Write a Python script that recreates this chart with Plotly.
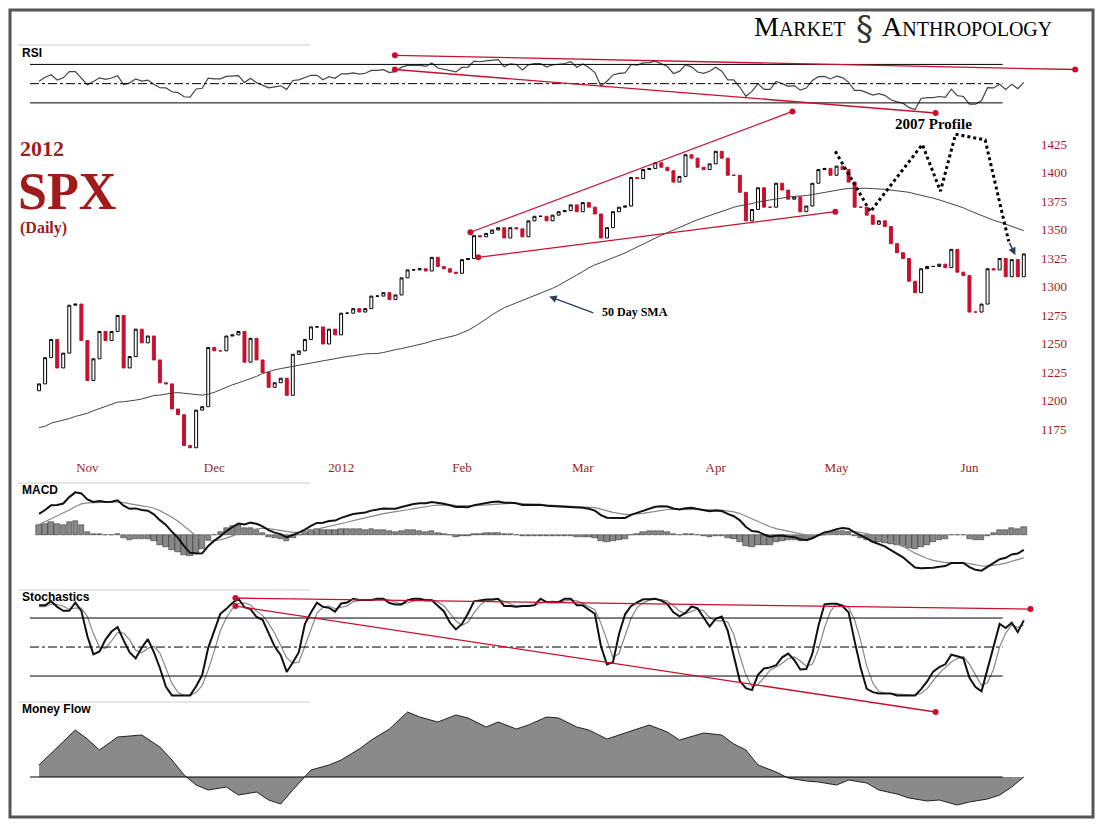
import pandas as pd
import numpy as np
import plotly.graph_objects as go
from plotly.subplots import make_subplots

# Data - daily SPX closes (warm-up Aug-Oct 2011 used only for indicators)
warmup = [1172, 1120, 1172, 1179, 1204, 1192, 1193, 1140, 1123, 1162, 1177, 1159, 1177, 1210, 1211, 1219,
          1204, 1174, 1165, 1198, 1154, 1162, 1172, 1189, 1209, 1216, 1204, 1202, 1167, 1129, 1136, 1163,
          1175, 1151, 1160, 1131,
          1099, 1123, 1144, 1164, 1155, 1194, 1195, 1207, 1203, 1225, 1200, 1225, 1209]
closes = [1215, 1238, 1254, 1229, 1242, 1284, 1285, 1253,
          1218, 1237, 1261, 1253, 1261, 1275, 1229, 1239, 1263, 1251, 1257, 1236, 1216, 1215, 1193, 1188,
          1161, 1159, 1192, 1195, 1247,
          1244, 1244, 1257, 1258, 1261, 1234, 1255, 1236, 1225, 1212, 1216, 1220, 1205, 1241, 1244, 1254,
          1265, 1265, 1250, 1263, 1258,
          1277, 1277, 1281, 1278, 1281, 1292, 1292, 1295, 1289, 1293, 1308, 1315, 1315, 1316, 1314, 1326,
          1318, 1316, 1313, 1312,
          1324, 1325, 1345, 1344, 1347, 1350, 1352, 1343, 1352, 1351, 1344, 1358, 1362, 1362, 1358, 1363,
          1366, 1367, 1372, 1366,
          1374, 1370, 1364, 1343, 1352, 1366, 1370, 1371, 1396, 1395, 1403, 1404, 1409, 1405, 1402, 1392,
          1397, 1416, 1413, 1405, 1403, 1408,
          1419, 1413, 1398, 1398, 1383, 1358, 1368, 1387, 1370, 1370, 1391, 1385, 1377, 1379, 1366, 1371,
          1391, 1403, 1404, 1398,
          1406, 1403, 1392, 1370, 1370, 1363, 1355, 1358, 1353, 1338, 1330, 1325, 1305, 1295, 1316, 1318,
          1318, 1320, 1317, 1333, 1313, 1310,
          1278, 1278, 1285, 1316, 1315, 1325, 1309, 1324, 1309, 1329]
month_idx = [8, 29, 50, 70, 90, 112, 132, 154]
month_labels = ["Nov", "Dec", "2012", "Feb", "Mar", "Apr", "May", "Jun"]
price_ticks = [1175, 1200, 1225, 1250, 1275, 1300, 1325, 1350, 1375, 1400, 1425]

# money flow (arbitrary units)
mf_idx = [0, 3, 6, 8, 10, 13, 17, 20, 22, 24, 26, 28, 31, 33, 36, 38, 40, 42, 45, 48, 50, 53, 55, 58,
          61, 63, 66, 69, 71, 74, 76, 79, 81, 84, 86, 89, 91, 94, 96, 99, 101, 104, 106, 110, 113, 115,
          117, 119, 122, 124, 127, 129, 132, 134, 137, 139, 142, 144, 147, 149, 152, 154, 157, 159, 161, 163]
mf_val = [12, 30, 47, 38, 27, 40, 42, 30, 17, 2, -8, -13, -10, -18, -15, -23, -27, -13, 7, 12, 17, 28,
          37, 48, 65, 60, 55, 62, 59, 50, 55, 48, 52, 60, 59, 50, 47, 38, 42, 48, 52, 45, 37, 44, 42, 33,
          27, 12, 5, -1, -4, -5, -8, -3, -6, -13, -17, -21, -24, -23, -28, -25, -22, -18, -10, 0]

# annotation lines (day index, value)
up_line = ([71.4, 124.7], [1348, 1454])
low_line = ([72.7, 131.8], [1326, 1366])
rsi_up = ([58.9, 171.5], [79.5, 64.7])
rsi_low = ([58.9, 148.4], [64.7, 19.5])
st_up = ([32.5, 164.1], [100.7, 89.3])
st_low = ([32.5, 148.4], [92.4, -17.2])
profile_x = [131.8, 137.6, 146.2, 149.2, 151.7, 156.6, 160.5]
profile_y = [1419, 1366, 1425, 1384, 1434, 1429, 1340]

# Indicators -
s = pd.Series(warmup + closes, dtype=float)
n0 = len(warmup)
sma = s.rolling(50).mean()
d = s.diff()
up = d.clip(lower=0).ewm(alpha=1 / 14, adjust=False).mean()
dn = (-d.clip(upper=0)).ewm(alpha=1 / 14, adjust=False).mean()
rsi = 100 - 100 / (1 + up / dn)
macd = s.ewm(span=12, adjust=False).mean() - s.ewm(span=26, adjust=False).mean()
sig = macd.ewm(span=9, adjust=False).mean()
hist = macd - sig
lo, hi = s.rolling(14).min(), s.rolling(14).max()
k = (100 * (s - lo) / (hi - lo)).rolling(3).mean()
dd = k.rolling(3).mean()

x = np.arange(len(closes))
opens = s.shift(1).iloc[n0:].values
cl = np.array(closes, dtype=float)
highs = np.maximum(opens, cl)
lows = np.minimum(opens, cl)

RED = "#c8102e"
W, H = 1097, 819  # page body has an 8px margin


def pxx(px):
    return (px - 8) / W


def py(px):
    return 1 - (px - 8) / H


fig = make_subplots(rows=5, cols=1, shared_xaxes=True)
fig.add_trace(go.Scatter(x=x, y=rsi.iloc[n0:], mode="lines", line=dict(color="#444", width=1.2)), row=1, col=1)
fig.add_trace(go.Candlestick(x=x, open=opens, high=highs, low=lows, close=cl,
                             increasing=dict(line=dict(color="black", width=1), fillcolor="white"),
                             decreasing=dict(line=dict(color=RED, width=1), fillcolor=RED),
                             whiskerwidth=0), row=2, col=1)
fig.add_trace(go.Scatter(x=x, y=sma.iloc[n0:], mode="lines", line=dict(color="#444", width=1)), row=2, col=1)
fig.add_trace(go.Bar(x=x, y=hist.iloc[n0:], marker=dict(color="#888", line=dict(color="#222", width=0.5)),
                     width=0.9), row=3, col=1)
fig.add_trace(go.Scatter(x=x, y=sig.iloc[n0:], mode="lines", line=dict(color="#888", width=1.2)), row=3, col=1)
fig.add_trace(go.Scatter(x=x, y=macd.iloc[n0:], mode="lines", line=dict(color="#111", width=2)), row=3, col=1)
fig.add_trace(go.Scatter(x=x, y=dd.iloc[n0:], mode="lines", line=dict(color="#888", width=1.2)), row=4, col=1)
fig.add_trace(go.Scatter(x=x, y=k.iloc[n0:], mode="lines", line=dict(color="#111", width=2)), row=4, col=1)
fig.add_trace(go.Scatter(x=mf_idx, y=mf_val, mode="lines", fill="tozeroy", fillcolor="#8a8a8a",
                         line=dict(color="#222", width=1)), row=5, col=1)

# horizontal reference lines
for row, vals in [(1, [70, 50, 30]), (4, [80, 50, 20]), (5, [0])]:
    for v in vals:
        fig.add_trace(go.Scatter(x=[-1.5, 159.5], y=[v, v], mode="lines",
                                 line=dict(color="black", width=1, dash="dashdot" if v == 50 else "solid")),
                      row=row, col=1)

# red trendlines
for row, ln in [(1, rsi_up), (1, rsi_low), (2, up_line), (2, low_line), (4, st_up), (4, st_low)]:
    fig.add_trace(go.Scatter(x=ln[0], y=ln[1], mode="lines+markers", cliponaxis=False,
                             line=dict(color=RED, width=1.3), marker=dict(color=RED, size=6)),
                  row=row, col=1)
fig.add_trace(go.Scatter(x=profile_x, y=profile_y, mode="lines", cliponaxis=False,
                         line=dict(color="black", width=3, dash="dot")), row=2, col=1)

# layout -
fig.update_layout(
    width=W, height=H, margin=dict(l=0, r=0, t=0, b=0), showlegend=False,
    paper_bgcolor="white", plot_bgcolor="rgba(0,0,0,0)", bargap=0,
    font=dict(family="Liberation Serif", color="black"),
    yaxis=dict(domain=[py(115), py(50)], range=[17.4, 85]),
    yaxis2=dict(domain=[py(458), py(100)], range=[1150, 1464]),
    yaxis3=dict(domain=[py(575), py(488)]),
    yaxis4=dict(domain=[py(715), py(590)], range=[-20.3, 109]),
    yaxis5=dict(domain=[py(812), py(705)], range=[-35, 72]),
)
fig.update_xaxes(range=[-1.5, 172.3], domain=[pxx(30), pxx(1080)], showgrid=False, zeroline=False,
                 showticklabels=False, ticks="", rangeslider_visible=False)
fig.update_yaxes(showgrid=False, zeroline=False, showticklabels=False)
fig.update_xaxes(row=2, col=1, showticklabels=True, tickvals=month_idx, ticktext=month_labels,
                 tickfont=dict(color="#a01c1c", size=13, family="Liberation Serif"))

for p in price_ticks:
    fig.add_annotation(x=168, y=p, xref="x2", yref="y2", text=str(p), showarrow=False,
                       font=dict(size=13, color="#a01c1c", family="Liberation Serif"))


def label(txt, xp, yp, size=12, color="black", bold=True, family="Liberation Sans", anchor="left"):
    fig.add_annotation(x=pxx(xp), y=py(yp), xref="paper", yref="paper", xanchor=anchor, yanchor="middle",
                       text=f"<b>{txt}</b>" if bold else txt, showarrow=False,
                       font=dict(size=size, color=color, family=family))


label("RSI", 20, 53, 12)
label("MACD", 20, 490, 12)
label("Stochastics", 20, 597, 12)
label("Money Flow", 20, 709, 12)
label("2012", 18, 148, 22, "#a01c1c", family="Liberation Serif")
label("SPX", 16, 192, 52, "#a01c1c", family="Liberation Serif")
label("(Daily)", 18, 228, 16, "#a01c1c", family="Liberation Serif")
label("2007 Profile", 893, 124, 15, family="Liberation Serif")
label("50 Day SMA", 600, 312, 12, family="Liberation Serif")
label("M<span style='font-size:20px'>ARKET</span>", 848, 26, 28, bold=False, family="Liberation Serif",
      anchor="right")
label("A<span style='font-size:20px'>NTHROPOLOGY</span>", 880, 26, 28, bold=False, family="Liberation Serif")
label("§", 864, 28, 34, bold=False, family="DejaVu Serif", color="#333", anchor="center")

fig.add_annotation(x=(549 - 39) / 6.04, y=1425 - (297 - 145) / 1.14, xref="x2", yref="y2",
                   ax=92, ay=1276.8, axref="x2", ayref="y2", text="",
                   showarrow=True, arrowhead=2, arrowwidth=1.5)
fig.add_annotation(x=161.6, y=1328, xref="x2", yref="y2", ax=160.5, ay=1340, axref="x2", ayref="y2",
                   text="", showarrow=True, arrowhead=2, arrowwidth=1.5)

# frame and panel separators
fig.add_shape(type="rect", xref="paper", yref="paper", x0=pxx(10), x1=pxx(1093), y0=py(817), y1=py(10),
              line=dict(color="#555", width=3))
for yp in [45, 483, 590, 702]:
    fig.add_shape(type="line", xref="paper", yref="paper", x0=pxx(18), x1=pxx(310), y0=py(yp), y1=py(yp),
                  line=dict(color="#ccc", width=1))

fig.write_html("out.html")
